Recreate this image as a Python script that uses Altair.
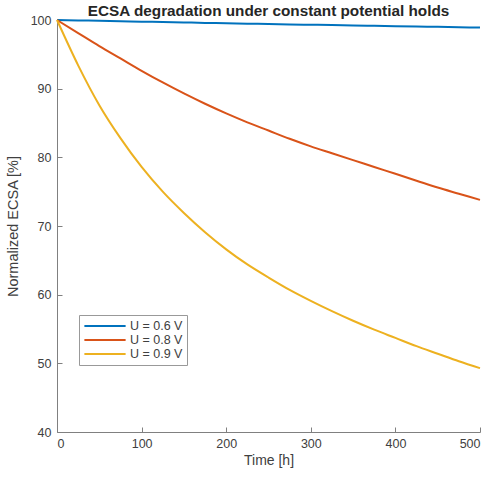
import altair as alt
import pandas as pd

time_h = [0, 25, 50, 75, 100, 125, 150, 175, 200, 225, 250, 275, 300, 325, 350, 375, 400, 425, 450, 475, 500]
ecsa_06 = [100, 99.94, 99.88, 99.82, 99.76, 99.70, 99.64, 99.58, 99.53, 99.47, 99.42, 99.36, 99.31, 99.26, 99.20, 99.15, 99.10, 99.05, 99.00, 98.95, 98.90]
ecsa_08 = [100, 98.1, 96.2, 94.4, 92.6, 90.9, 89.3, 87.8, 86.4, 85.1, 83.9, 82.7, 81.6, 80.6, 79.6, 78.6, 77.6, 76.6, 75.6, 74.7, 73.8]
ecsa_09 = [100, 93.4, 87.6, 82.8, 78.6, 75.0, 71.9, 69.1, 66.6, 64.4, 62.5, 60.7, 59.1, 57.6, 56.2, 54.9, 53.7, 52.5, 51.4, 50.3, 49.3]
series_names = ["U = 0.6 V", "U = 0.8 V", "U = 0.9 V"]
series_colors = ["#0072BD", "#D95319", "#EDB120"]
x_ticks = [0, 100, 200, 300, 400, 500]
y_ticks = [40, 50, 60, 70, 80, 90, 100]

rows = []
for name, vals in zip(series_names, [ecsa_06, ecsa_08, ecsa_09]):
    for t, v in zip(time_h, vals):
        rows.append({"t": t, "v": v, "s": name})
df = pd.DataFrame(rows)

FONT = "Liberation Sans"
AX = "#808080"
TXT = "#404040"

xs = alt.Scale(domain=[0, 500], nice=False)
ys = alt.Scale(domain=[40, 100], nice=False)

lines = alt.Chart(df).mark_line(strokeWidth=2, interpolate="monotone").encode(
    x=alt.X("t:Q", scale=xs, axis=alt.Axis(orient="bottom", values=x_ticks, tickSize=0, grid=False,
                                           domainColor=AX, labelColor=TXT, labelFontSize=12.5, labelFont=FONT,
                                           labelPadding=5, title="Time [h]", titleFont=FONT, titleFontSize=14,
                                           titleFontWeight="normal", titleColor=TXT, titlePadding=4)),
    y=alt.Y("v:Q", scale=ys, axis=alt.Axis(orient="left", values=y_ticks, tickSize=0, grid=False,
                                           domainColor=AX, labelColor=TXT, labelFontSize=12.5, labelFont=FONT,
                                           labelPadding=6, title="Normalized ECSA [%]", titleFont=FONT,
                                           titleFontSize=14.5, titleFontWeight="normal", titleColor=TXT,
                                           titlePadding=10)),
    color=alt.Color("s:N", scale=alt.Scale(domain=series_names, range=series_colors),
                    legend=alt.Legend(title=None, orient="none", legendX=22, legendY=295,
                                      symbolType="stroke", symbolSize=1700, symbolStrokeWidth=2,
                                      clipHeight=14,
                                      labelFont=FONT, labelFontSize=12.5, labelColor=TXT,
                                      fillColor="white", strokeColor="#999999", padding=4,
                                      rowPadding=0, labelOffset=3, symbolOffset=0)),
)

ticks = alt.Chart(df).mark_line(strokeOpacity=0).encode(
    x=alt.X("t:Q", scale=xs, axis=alt.Axis(orient="top", offset=-412, values=x_ticks, labels=False,
                                           domain=False, ticks=True, tickSize=5, tickColor=AX,
                                           grid=False, title=None)),
    y=alt.Y("v:Q", scale=ys, axis=alt.Axis(orient="right", offset=-423, values=y_ticks, labels=False,
                                           domain=False, ticks=True, tickSize=5, tickColor=AX,
                                           grid=False, title=None)),
)

chart = alt.layer(lines, ticks).resolve_axis(x="independent", y="independent").properties(
    width=423, height=412,
    autosize=alt.AutoSizeParams(type="none"),
    padding={"left": 57, "top": 20, "right": 10, "bottom": 45},
    title=alt.Title("ECSA degradation under constant potential holds", font=FONT, fontSize=15.3,
                    fontWeight="bold", color="#262626", anchor="middle", offset=-5),
).configure_view(stroke=None)

chart.save("out.html", embed_options={"renderer": "svg", "actions": False})
